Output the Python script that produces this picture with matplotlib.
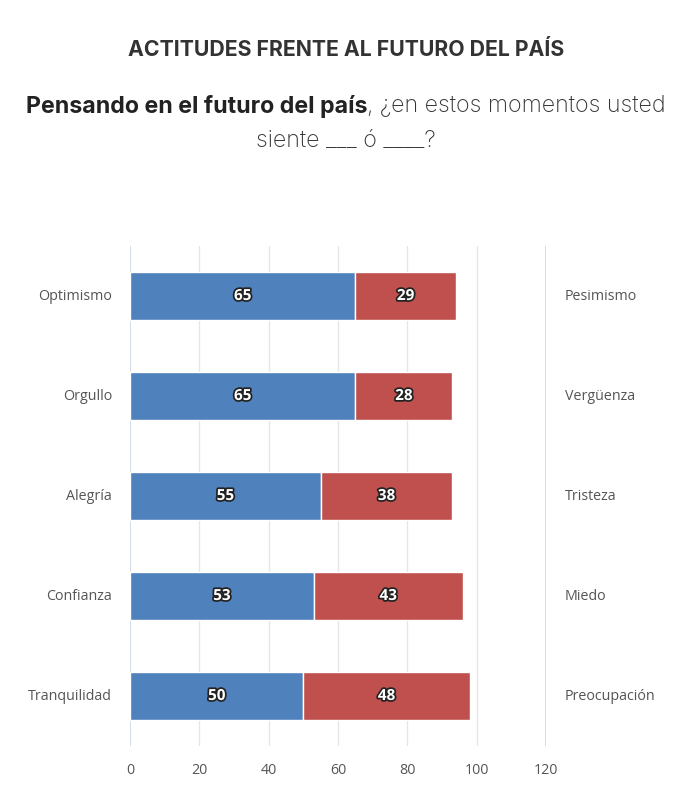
import matplotlib
matplotlib.use("Agg")
import matplotlib.pyplot as plt
import matplotlib.patheffects as pe
import numpy as np

# datos
positivos = ["Optimismo", "Orgullo", "Alegría", "Confianza", "Tranquilidad"]
negativos = ["Pesimismo", "Vergüenza", "Tristeza", "Miedo", "Preocupación"]
val_pos = [65, 65, 55, 53, 50]
val_neg = [29, 28, 38, 43, 48]
xticks = [0, 20, 40, 60, 80, 100, 120]

AZUL = "#4f81bd"
ROJO = "#c0504d"
GRIS = "#555555"

plt.rcParams["font.family"] = ["Open Sans", "DejaVu Sans"]

fig = plt.figure(figsize=(6.92, 7.97), dpi=100)
ax = fig.add_axes([130 / 692, 1 - 746 / 797, 416 / 692, 500 / 797])

y = np.arange(len(positivos))
ax.barh(y, val_pos, height=0.48, color=AZUL, edgecolor="white", linewidth=1)
ax.barh(y, val_neg, left=val_pos, height=0.48, color=ROJO, edgecolor="white", linewidth=1)

efecto = [pe.withStroke(linewidth=2.5, foreground="#222222")]
for i in range(len(y)):
    ax.text(val_pos[i] / 2, y[i], str(val_pos[i]), ha="center", va="center",
            color="white", fontsize=11, fontweight="bold", path_effects=efecto)
    ax.text(val_pos[i] + val_neg[i] / 2, y[i], str(val_neg[i]), ha="center", va="center",
            color="white", fontsize=11, fontweight="bold", path_effects=efecto)
    ax.text(-0.043, y[i], positivos[i], transform=ax.get_yaxis_transform(),
            ha="right", va="center", fontsize=10.3, color=GRIS)
    ax.text(1.045, y[i], negativos[i], transform=ax.get_yaxis_transform(),
            ha="left", va="center", fontsize=10.3, color=GRIS)

ax.set_xlim(0, 120)
ax.set_ylim(len(y) - 0.5, -0.5)
ax.set_xticks(xticks)
ax.set_xticklabels([str(t) for t in xticks], fontsize=10.3, color=GRIS)
ax.set_yticks([])
ax.tick_params(axis="x", length=0, pad=12)
for s in ax.spines.values():
    s.set_visible(False)
for t in xticks:
    if t in (0, 120):
        ax.axvline(t, color="#ccd6eb", lw=1.2, zorder=0)
    else:
        ax.axvline(t, color="#e6e6e6", lw=1, zorder=0)

# títulos
fig.text(0.5, 1 - 50 / 797, "ACTITUDES FRENTE AL FUTURO DEL PAÍS", ha="center", va="center",
         fontsize=15.3, fontweight="bold", color="#333333", family=["Inter", "DejaVu Sans"])

fig.canvas.draw()
r = fig.canvas.get_renderer()
y1 = 1 - 106 / 797
parte_b = fig.text(0, y1, "Pensando en el futuro del país", fontsize=16.7, fontweight="bold",
                   color="#222222", va="center", family=["Inter", "DejaVu Sans"])
parte_n = fig.text(0, y1, ", ¿en estos momentos usted", fontsize=16.7, fontweight="light",
                   color="#333333", va="center", family=["Inter", "DejaVu Sans"])
wb = parte_b.get_window_extent(r).width
wn = parte_n.get_window_extent(r).width
x0 = (692 - wb - wn) / 2
parte_b.set_x(x0 / 692)
parte_n.set_x((x0 + wb) / 692)
fig.text(0.5, 1 - 140 / 797, "siente ___ ó ____?", fontsize=16.7, fontweight="light",
         color="#333333", ha="center", va="center", family=["Inter", "DejaVu Sans"])

fig.savefig("out.png", dpi=100)
